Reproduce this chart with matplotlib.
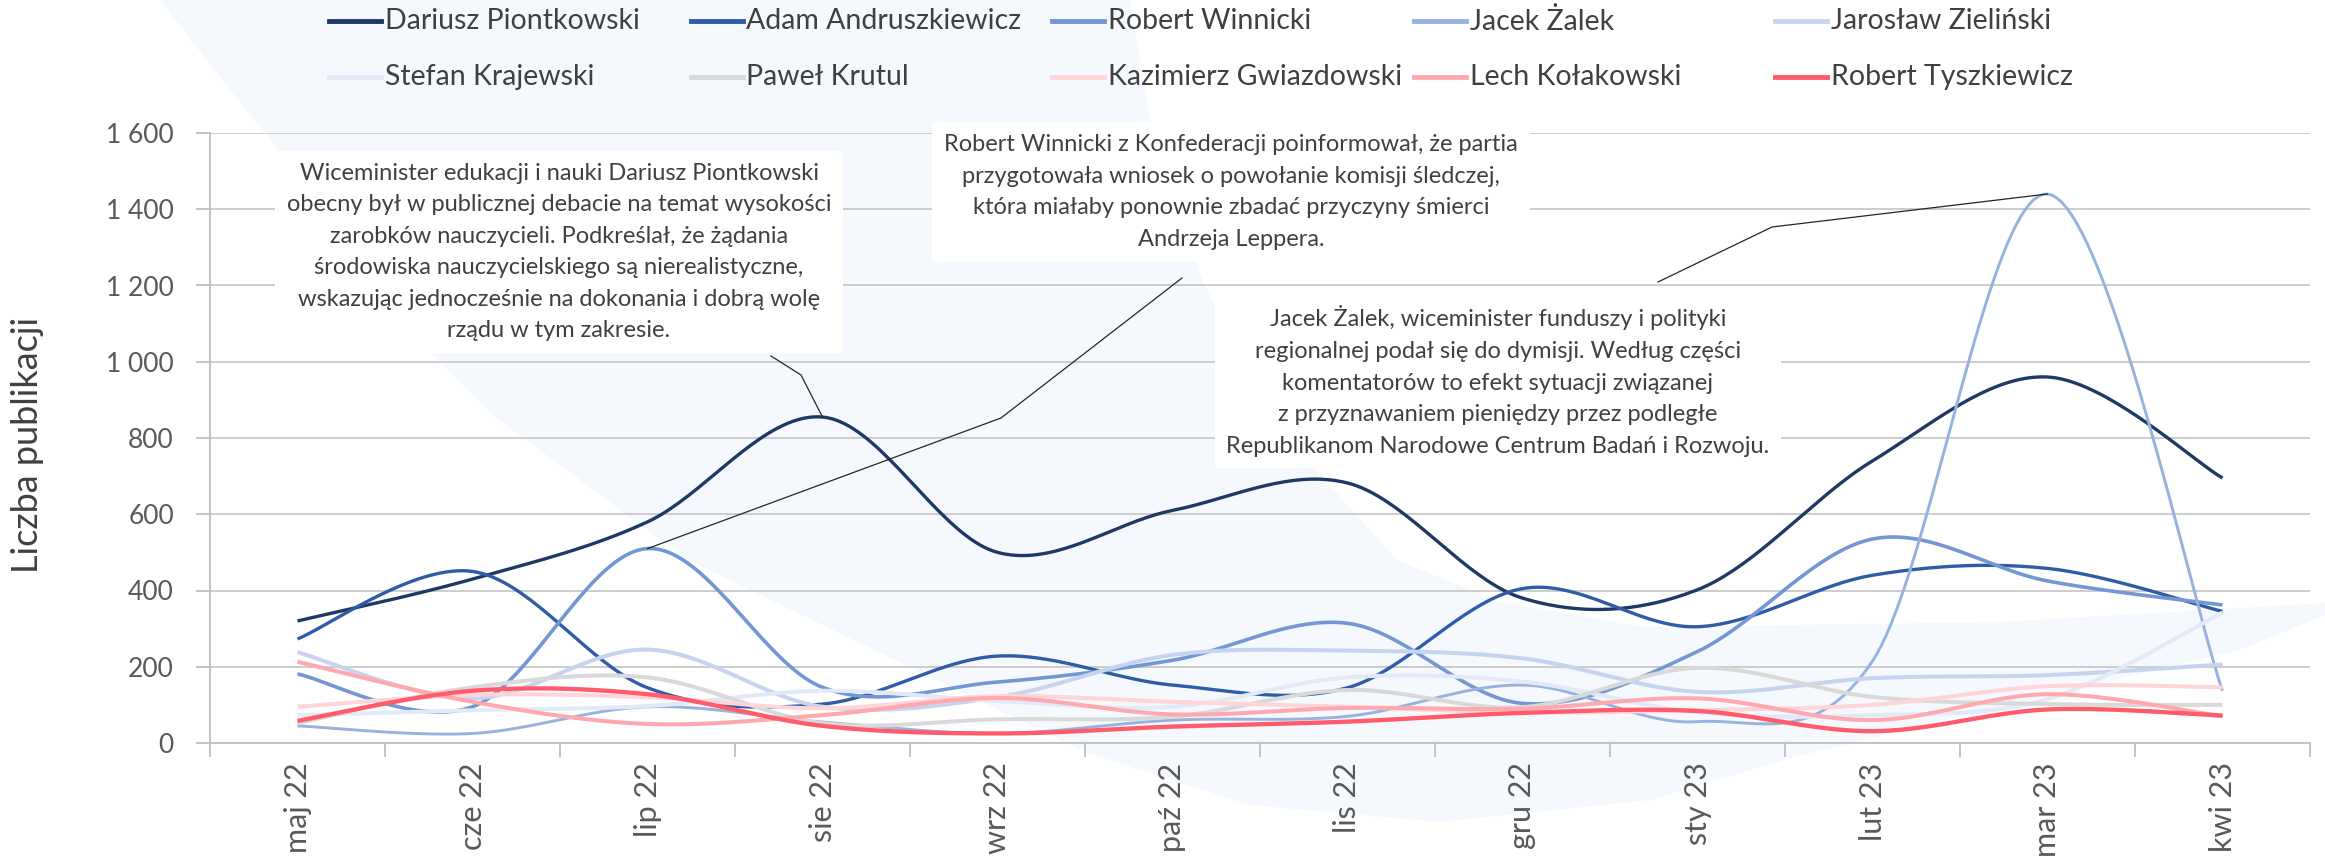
import numpy as np
import matplotlib
matplotlib.use("Agg")
import matplotlib.pyplot as plt
from matplotlib.lines import Line2D
from matplotlib.patches import Polygon

plt.rcParams['font.family'] = ['Lato', 'DejaVu Sans']

months = ["maj 22", "cze 22", "lip 22", "sie 22", "wrz 22", "paź 22",
          "lis 22", "gru 22", "sty 23", "lut 23", "mar 23", "kwi 23"]

names = ["Dariusz Piontkowski", "Adam Andruszkiewicz", "Robert Winnicki",
         "Jacek Żalek", "Jarosław Zieliński", "Stefan Krajewski",
         "Paweł Krutul", "Kazimierz Gwiazdowski", "Lech Kołakowski",
         "Robert Tyszkiewicz"]

piontkowski   = [320, 430, 580, 855, 500, 610, 682, 380, 402, 740, 960, 695]
andruszkiewicz = [273, 450, 145, 102, 228, 152, 145, 405, 305, 440, 458, 345]
winnicki      = [181, 95, 510, 146, 160, 217, 314, 104, 240, 535, 425, 362]
zalek         = [45, 25, 95, 55, 25, 60, 70, 152, 56, 215, 1440, 137]
zielinski     = [238, 117, 245, 95, 120, 231, 242, 222, 134, 170, 178, 206]
krajewski     = [73, 86, 97, 137, 110, 95, 172, 161, 80, 73, 115, 342]
krutul        = [52, 146, 172, 52, 62, 69, 139, 94, 197, 121, 102, 100]
gwiazdowski   = [95, 126, 120, 91, 123, 108, 95, 80, 86, 100, 149, 146]
kolakowski    = [213, 108, 50, 73, 118, 75, 92, 90, 117, 60, 128, 70]
tyszkiewicz   = [58, 137, 128, 45, 25, 43, 56, 79, 84, 31, 88, 72]

series = [piontkowski, andruszkiewicz, winnicki, zalek, zielinski,
          krajewski, krutul, gwiazdowski, kolakowski, tyszkiewicz]

colors = ["#1f3864", "#2f5ba7", "#7397d3", "#98b2df", "#c7d4ee",
          "#e3e9f6", "#d9d9d9", "#ffd5d9", "#ffa8ae", "#ff5b6b"]
widths = [2.4, 2.4, 2.6, 2.1, 2.9, 2.9, 2.9, 2.9, 2.9, 3.1]

notes = [
    "Wiceminister edukacji i nauki Dariusz Piontkowski\n"
    "obecny był w publicznej debacie na temat wysokości\n"
    "zarobków nauczycieli. Podkreślał, że żądania\n"
    "środowiska nauczycielskiego są nierealistyczne,\n"
    "wskazując jednocześnie na dokonania i dobrą wolę\n"
    "rządu w tym zakresie.",
    "Robert Winnicki z Konfederacji poinformował, że partia\n"
    "przygotowała wniosek o powołanie komisji śledczej,\n"
    "która miałaby ponownie zbadać przyczyny śmierci\n"
    "Andrzeja Leppera.",
    "Jacek Żalek, wiceminister funduszy i polityki\n"
    "regionalnej podał się do dymisji. Według części\n"
    "komentatorów to efekt sytuacji związanej\n"
    "z przyznawaniem pieniędzy przez podległe\n"
    "Republikanom Narodowe Centrum Badań i Rozwoju.",
]


def smooth(xs, ys, n=40):
    # bezier smoothing like the excel "smoothed line" option
    pts = np.column_stack([xs, ys]).astype(float)
    P = np.vstack([pts[0], pts, pts[-1]])
    out = []
    t = np.linspace(0, 1, n)[:, None]
    for i in range(len(pts) - 1):
        p0, p1, p2, p3 = P[i], P[i + 1], P[i + 2], P[i + 3]
        c1 = p1 + (p2 - p0) / 6
        c2 = p2 - (p3 - p1) / 6
        seg = (1 - t) ** 3 * p1 + 3 * (1 - t) ** 2 * t * c1 + 3 * (1 - t) * t ** 2 * c2 + t ** 3 * p2
        out.append(seg if i == 0 else seg[1:])
    return np.vstack(out)


W, H = 2325, 857
fig = plt.figure(figsize=(W / 100, H / 100), dpi=100)


def fx(px):
    return px / W


def fy(py):
    return 1 - py / H


# faint watermark shape behind the chart
shape_px = [(160, 0), (238, 100), (267, 135), (432, 353), (499, 420), (688, 560),
            (1088, 753), (1250, 805), (1440, 822), (1650, 800), (1794, 757),
            (2240, 650), (2325, 615), (2325, 603), (2000, 622), (1647, 627),
            (1500, 602), (1397, 560), (1280, 430), (1202, 280), (1150, 120), (1130, 0)]
fig.patches.append(Polygon([(fx(a), fy(b)) for a, b in shape_px], closed=True,
                           transform=fig.transFigure, facecolor="#f5f9fe",
                           edgecolor="none", zorder=-1))

ax = fig.add_axes([fx(210), fy(743), fx(2100), 610 / H])
ax.set_facecolor("none")

x = np.arange(len(months))
for vals, c, lw in zip(series, colors, widths):
    s = smooth(x, vals)
    ax.plot(s[:, 0], s[:, 1], color=c, lw=lw, solid_capstyle="butt", zorder=3)

ax.set_xlim(-0.5, len(months) - 0.5)
ax.set_ylim(0, 1600)
ax.set_yticks(range(0, 1601, 200))
ax.set_yticklabels([f"{v:,}".replace(",", " ") for v in range(0, 1601, 200)])
ax.set_xticks(x)
ax.set_xticklabels(months, rotation=90)
ax.set_xticks(np.arange(-0.5, len(months), 1), minor=True)
ax.tick_params(axis="x", which="major", length=0, pad=14, labelsize=22, labelcolor="#595959")
ax.tick_params(axis="x", which="minor", length=10, width=1.3, color="#bfbfbf")
ax.tick_params(axis="y", length=10, width=1.3, color="#bfbfbf", pad=16,
               labelsize=19, labelcolor="#595959")
ax.grid(axis="y", color="#c9c9c9", lw=1.3, zorder=1)
for sp in ["top", "right"]:
    ax.spines[sp].set_visible(False)
for sp in ["left", "bottom"]:
    ax.spines[sp].set_color("#bfbfbf")
    ax.spines[sp].set_linewidth(1.3)

fig.text(fx(27), fy(445), "Liczba publikacji", rotation=90, ha="center", va="center",
         fontsize=26, color="#404040")

# legend, 2 rows x 5 columns with equal column widths
for k, (nm, c) in enumerate(zip(names, colors)):
    row, col = divmod(k, 5)
    x0 = 329 + col * 361.5
    y0 = 21 + row * 56
    fig.add_artist(Line2D([fx(x0), fx(x0 + 52)], [fy(y0), fy(y0)], transform=fig.transFigure,
                          color=c, lw=3.5))
    fig.text(fx(x0 + 56), fy(y0), nm, ha="left", va="center", fontsize=20.5, color="#404040")

# callouts
boxes = [(559, 252), (1231, 192), (1498, 381)]
for txt, (bx, by) in zip(notes, boxes):
    fig.text(fx(bx), fy(by), txt, ha="center", va="center", fontsize=17, color="#404040",
             linespacing=1.62, zorder=5,
             bbox=dict(boxstyle="square,pad=0.5", facecolor="white", edgecolor="none"))


def leader(points_px, idx, vals):
    fig.canvas.draw()
    px, py = ax.transData.transform((idx, vals[idx]))
    xs = [fx(p[0]) for p in points_px] + [px / W]
    ys = [fy(p[1]) for p in points_px] + [py / H]
    fig.add_artist(Line2D(xs, ys, transform=fig.transFigure, color="#262626", lw=0.9, zorder=6))


leader([(771, 356), (801, 375)], 3, piontkowski)
leader([(1182, 278), (1001, 418)], 2, winnicki)
leader([(1658, 282), (1772, 227)], 10, zalek)

fig.savefig("out.png", dpi=100)
